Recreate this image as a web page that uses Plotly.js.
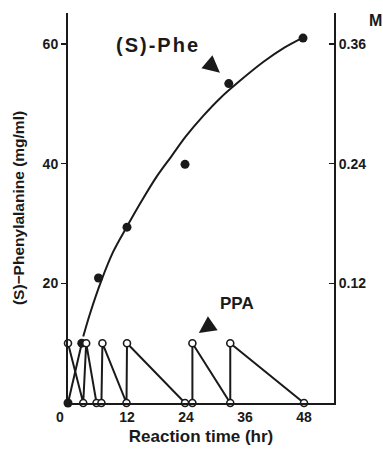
<!DOCTYPE html>
<html>
<head>
<meta charset="utf-8">
<script src="https://cdn.plot.ly/plotly-3.0.1.min.js"></script>
<style>html,body{margin:0;padding:0;background:#fff;}#chart{width:383px;height:450px;}</style>
</head>
<body>
<div id="chart"></div>
<script>
// (S)-Phe measured points (hr, mg/ml)
var pheTime = [0, 2.8, 6.2, 12.0, 23.8, 32.7, 47.8];
var pheConc = [0, 10, 20.9, 29.4, 39.9, 53.4, 61.0];
// (S)-Phe fitted curve
var curveTime = [3.1, 4.5, 6.8, 9.2, 12.0, 15.0, 18.0, 21.0, 24.0, 27.5, 31.0, 34.3, 39.7, 44.0, 47.6];
var curveConc = [11.1, 15.0, 20.5, 25.3, 29.5, 33.8, 37.8, 41.2, 44.6, 48.0, 51.0, 53.4, 57.0, 59.4, 61.0];
// PPA feeding sawtooth (hr, mg/ml)
var ppaTime = [0, 3.1, 3.7, 5.8, 6.8, 7.0, 11.9, 12.0, 23.8, 25.3, 25.3, 33.0, 33.0, 48.0];
var ppaConc = [10, 0, 10, 0, 0, 10, 0, 10, 0, 0, 10, 0, 10, 0];
// axis ticks
var xTicks = [0, 12, 24, 36, 48];
var xTickText = ['', '12', '24', '36', '48'];
var yTicks = [20, 40, 60];
var y2Ticks = [0.12, 0.24, 0.36];
var y2TickText = ['0.12', '0.24', '0.36'];

var FONT = 'Liberation Sans, Arial, sans-serif';
var INK = '#1a1a1a';
var TF = {size: 14, family: FONT, color: INK, weight: 'bold'};

var traces = [
  { x: curveTime, y: curveConc, mode: 'lines', line: {color: INK, width: 2, shape: 'spline', smoothing: 1}, hoverinfo: 'skip', cliponaxis: false },
  { x: pheTime.slice(0, 2), y: pheConc.slice(0, 2), mode: 'lines', line: {color: INK, width: 2}, cliponaxis: false },
  { x: pheTime, y: pheConc, mode: 'markers', marker: {color: INK, size: 9}, cliponaxis: false },
  { x: ppaTime, y: ppaConc, mode: 'lines+markers', line: {color: INK, width: 2},
    marker: {color: '#fff', size: 7, line: {color: INK, width: 1.6}}, cliponaxis: false },
  { x: [0], y: [0], yaxis: 'y2', mode: 'markers', marker: {opacity: 0}, hoverinfo: 'skip', showlegend: false }
];

var layout = {
  width: 383, height: 450,
  margin: {l: 68, r: 49, t: 13, b: 47},
  paper_bgcolor: '#fff', plot_bgcolor: '#fff',
  showlegend: false,
  font: {family: FONT, color: INK, size: 14},
  xaxis: {
    range: [0, 54.1], showline: true, linecolor: INK, linewidth: 2, mirror: false,
    showgrid: false, zeroline: false, ticks: '', tickvals: xTicks, ticktext: xTickText,
    tickfont: TF,
    title: {text: 'Reaction time (hr)', font: {size: 17, family: FONT, color: INK, weight: 'bold'}, standoff: 6}
  },
  yaxis: {
    range: [0, 65.2], showline: true, linecolor: INK, linewidth: 2,
    showgrid: false, zeroline: false, ticks: 'outside', ticklen: 5, tickwidth: 1.5, tickcolor: INK,
    tickvals: yTicks, tickfont: TF,
    title: {text: '(S)−Phenylalanine (mg/ml)', font: {size: 15.5, family: FONT, color: INK, weight: 'bold'}, standoff: 14}
  },
  yaxis2: {
    range: [0, 0.3912], overlaying: 'y', side: 'right', showline: true, linecolor: INK, linewidth: 2,
    showgrid: false, zeroline: false, ticks: 'inside', ticklen: 5, tickwidth: 1.5, tickcolor: INK,
    tickvals: y2Ticks, ticktext: y2TickText, tickfont: TF
  },
  annotations: [
    {x: 0, y: 0, xref: 'x', yref: 'y', text: '<b>0</b>', showarrow: false, yanchor: 'top', xanchor: 'center',
     xshift: -8, yshift: -4, font: {size: 14, family: FONT, color: INK}},
    {x: 18.3, y: 59.9, xref: 'x', yref: 'y', text: '<b><span style="letter-spacing:2px">(S)-Phe</span></b>', showarrow: false,
     font: {size: 20, family: FONT, color: INK}},
    {x: 30.9, y: 55.2, xref: 'x', yref: 'y', text: '', showarrow: true, arrowhead: 2, arrowsize: 1.7, arrowwidth: 2,
     arrowcolor: INK, ax: -13, ay: -11},
    {x: 34.3, y: 16.6, xref: 'x', yref: 'y', text: '<b>PPA</b>', showarrow: false,
     font: {size: 17, family: FONT, color: INK}},
    {x: 26.6, y: 11.7, xref: 'x', yref: 'y', text: '', showarrow: true, arrowhead: 2, arrowsize: 1.7, arrowwidth: 2,
     arrowcolor: INK, ax: 13, ay: -9},
    {x: 1, y: 1, xref: 'paper', yref: 'paper', text: '<b>M</b>', showarrow: false, xanchor: 'left', yanchor: 'middle',
     xshift: 33, yshift: -7, font: {size: 16, family: FONT, color: INK}}
  ]
};

Plotly.newPlot('chart', traces, layout, {displayModeBar: false, staticPlot: true});
</script>
</body>
</html>
